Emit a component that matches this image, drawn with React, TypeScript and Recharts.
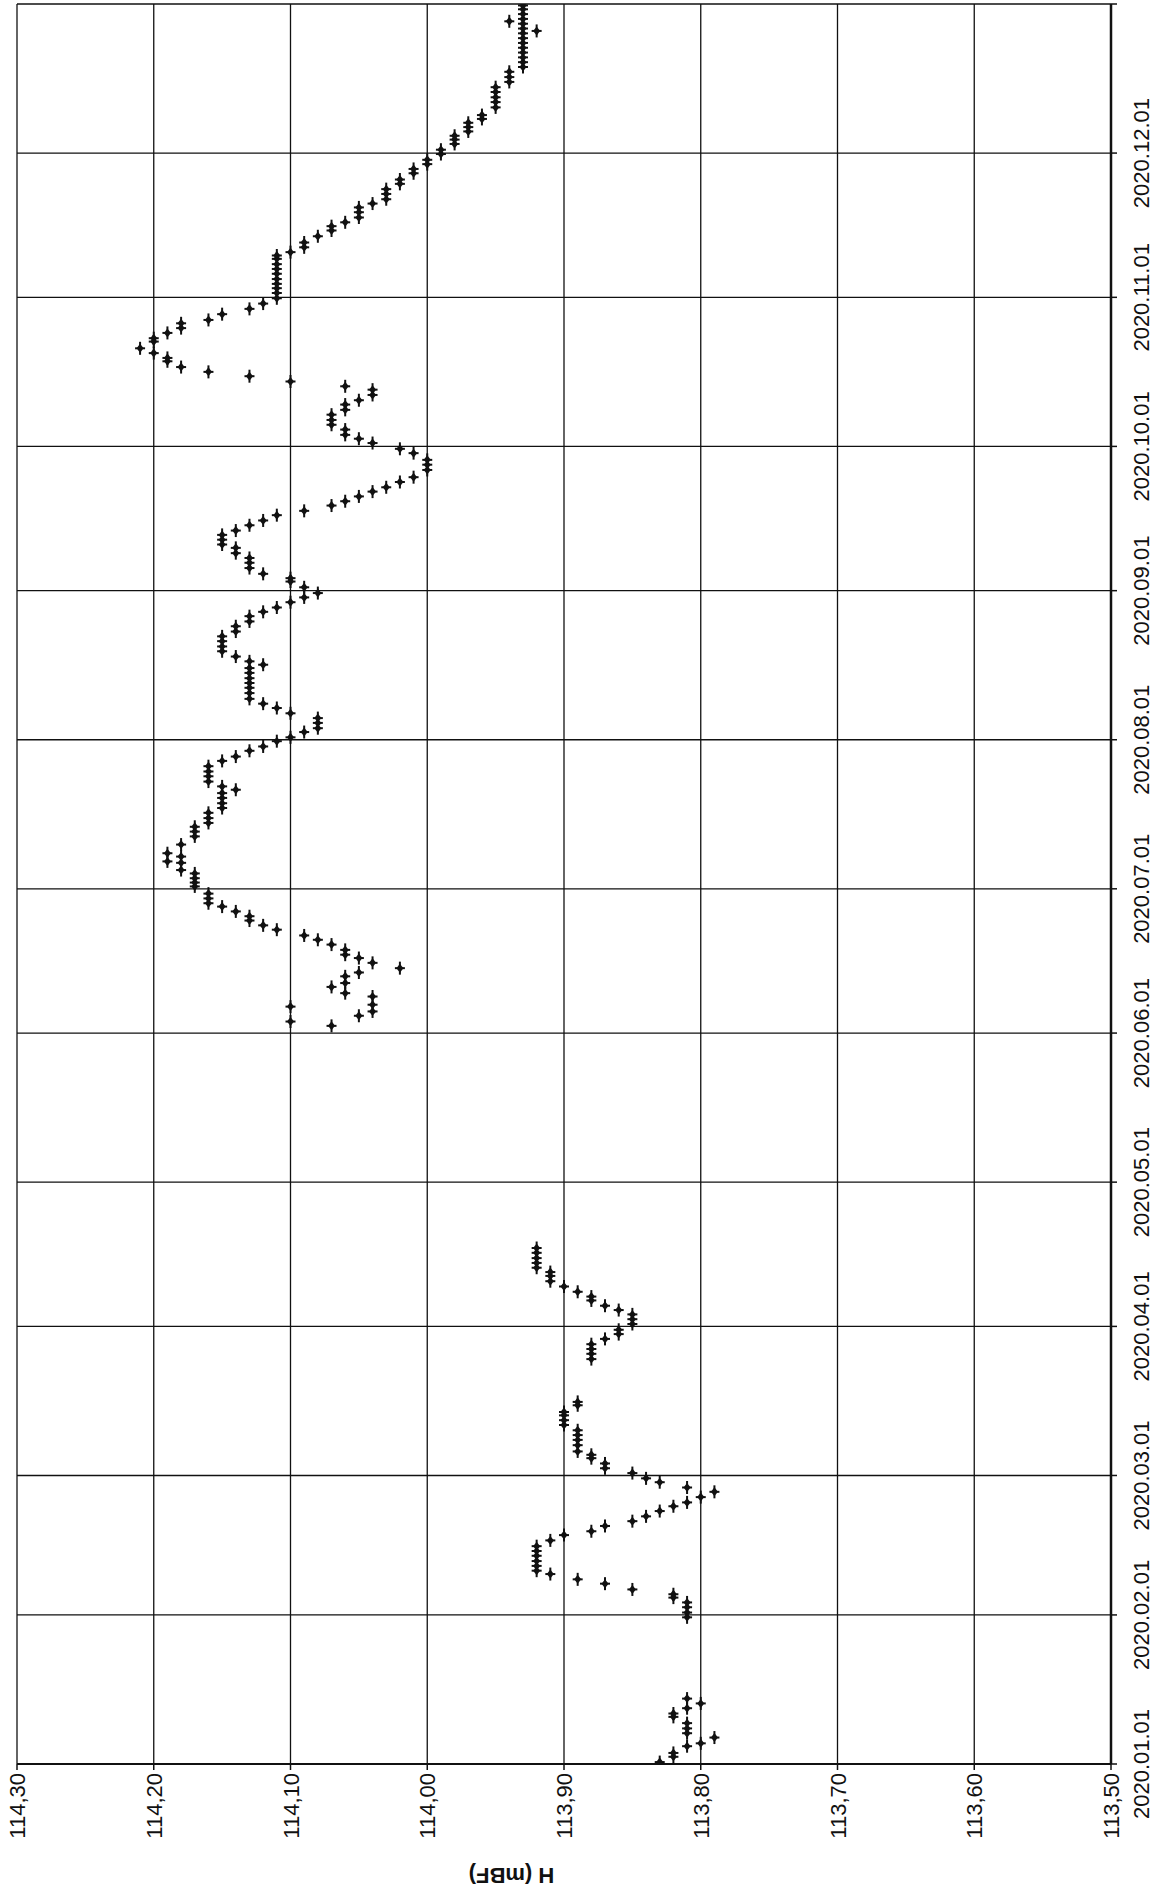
import React from 'react';
import { ScatterChart, Scatter, XAxis, YAxis, CartesianGrid } from 'recharts';

// Day of year 2020 (0 = 2020.01.01) at each month start; 366 = end of year
const monthTickDays = [0, 31, 60, 91, 121, 152, 182, 213, 244, 274, 305, 335, 366];
const monthTickLabels = [
  '2020.01.01', '2020.02.01', '2020.03.01', '2020.04.01', '2020.05.01', '2020.06.01',
  '2020.07.01', '2020.08.01', '2020.09.01', '2020.10.01', '2020.11.01', '2020.12.01', '',
];
const levelTicks = [113.5, 113.6, 113.7, 113.8, 113.9, 114.0, 114.1, 114.2, 114.3];

// Readings: day of year and water level H (mBF)
const janDays = [0.4, 1.5, 2.3, 3.7, 4.3, 5.5, 6.4, 7.4, 8.5, 9.8, 10.5, 11.6, 12.6, 13.6];
const janLevels = [113.83, 113.82, 113.82, 113.81, 113.8, 113.79, 113.81, 113.81, 113.81, 113.82, 113.82, 113.81, 113.8, 113.81];

const febMarDays = [30.5, 31.5, 32.6, 33.6, 34.6, 35.3, 36.3, 37.5, 38.4, 39.5, 40.2, 41.2, 42.2, 43.3, 44.3, 45.3, 46.5, 47.6, 48.4, 49.5, 50.5, 51.5, 52.6, 53.6, 54.4, 55.5, 56.6, 57.5, 58.6, 59.4, 60.5, 61.5, 62.5, 63.6, 64.3, 65.0, 66.3, 67.4, 68.4, 69.4, 70.5, 71.5, 72.5, 73.2, 74.6, 75.3];
const febMarLevels = [113.81, 113.81, 113.81, 113.81, 113.82, 113.82, 113.85, 113.87, 113.89, 113.91, 113.92, 113.92, 113.92, 113.92, 113.92, 113.92, 113.91, 113.9, 113.88, 113.87, 113.85, 113.84, 113.83, 113.82, 113.81, 113.8, 113.79, 113.81, 113.83, 113.84, 113.85, 113.87, 113.87, 113.88, 113.88, 113.89, 113.89, 113.89, 113.89, 113.89, 113.9, 113.9, 113.9, 113.9, 113.89, 113.89];

const aprDays = [84.2, 85.3, 86.3, 87.3, 88.4, 89.4, 90.3, 91.5, 92.5, 93.5, 94.4, 95.3, 96.4, 97.2, 98.2, 99.3, 100.4, 101.5, 102.3, 103.2, 104.2, 105.2, 106.3, 107.3];
const aprLevels = [113.88, 113.88, 113.88, 113.88, 113.87, 113.86, 113.86, 113.85, 113.85, 113.85, 113.86, 113.87, 113.88, 113.88, 113.89, 113.9, 113.91, 113.91, 113.91, 113.92, 113.92, 113.92, 113.92, 113.92];

const junJulDays = [153.5, 154.4, 155.6, 156.5, 157.5, 157.9, 159.6, 160.3, 161.6, 162.4, 163.8, 164.6, 165.5, 166.6, 167.6, 168.3, 169.3, 170.4, 171.4, 172.3, 173.5, 174.4, 175.4, 176.3, 177.3, 178.3, 179.0, 180.0, 181.0, 182.5, 183.3, 184.2, 185.2, 185.9, 187.4, 187.7, 188.7, 189.4, 191.2, 192.9, 193.9, 194.9, 195.7, 196.7, 197.8, 198.8, 199.8, 200.9, 201.9, 202.6, 203.3, 204.3, 205.4, 206.4, 207.5, 208.6, 209.5, 210.7, 211.6, 212.7];
const junJulLevels = [114.07, 114.1, 114.05, 114.04, 114.1, 114.04, 114.04, 114.06, 114.07, 114.06, 114.06, 114.05, 114.02, 114.04, 114.05, 114.06, 114.06, 114.07, 114.08, 114.09, 114.11, 114.12, 114.13, 114.13, 114.14, 114.15, 114.16, 114.16, 114.16, 114.17, 114.17, 114.17, 114.17, 114.18, 114.18, 114.19, 114.18, 114.19, 114.18, 114.17, 114.17, 114.17, 114.16, 114.16, 114.16, 114.15, 114.15, 114.15, 114.15, 114.14, 114.15, 114.16, 114.16, 114.16, 114.16, 114.15, 114.14, 114.13, 114.12, 114.11];

const augSepDays = [213.5, 214.6, 215.4, 216.5, 217.5, 218.5, 219.6, 220.5, 221.5, 222.7, 223.8, 224.8, 225.8, 226.9, 227.9, 228.6, 229.3, 230.3, 231.4, 232.4, 233.5, 234.5, 235.5, 236.6, 237.6, 238.7, 239.6, 240.5, 241.6, 242.6, 243.5, 244.7, 245.9, 246.6, 247.5, 248.7, 249.8, 250.8, 251.8, 252.9, 253.6, 254.6, 255.6, 256.5, 257.6, 258.6, 259.7, 260.6, 261.7, 262.6, 263.6, 264.6, 265.5, 266.6, 267.6, 269.1, 270.2, 271.2, 272.6, 273.5];
const augSepLevels = [114.1, 114.09, 114.08, 114.08, 114.08, 114.1, 114.11, 114.12, 114.13, 114.13, 114.13, 114.13, 114.13, 114.13, 114.13, 114.12, 114.13, 114.14, 114.15, 114.15, 114.15, 114.15, 114.14, 114.14, 114.13, 114.13, 114.12, 114.11, 114.1, 114.09, 114.08, 114.09, 114.1, 114.1, 114.12, 114.13, 114.13, 114.13, 114.14, 114.14, 114.15, 114.15, 114.15, 114.14, 114.13, 114.12, 114.11, 114.09, 114.07, 114.06, 114.05, 114.04, 114.03, 114.02, 114.01, 114.0, 114.0, 114.0, 114.01, 114.02];

const octDays = [274.7, 275.6, 276.4, 277.5, 278.5, 279.5, 280.6, 281.6, 282.7, 283.6, 284.7, 285.8, 286.5, 287.5, 288.6, 289.5, 290.5, 291.7, 292.4, 293.4, 294.4, 295.8, 296.5, 297.6, 298.6, 299.6, 300.3, 301.5, 302.6, 303.7];
const octLevels = [114.04, 114.05, 114.06, 114.06, 114.07, 114.07, 114.07, 114.06, 114.06, 114.05, 114.04, 114.04, 114.06, 114.1, 114.13, 114.16, 114.18, 114.19, 114.19, 114.2, 114.21, 114.2, 114.2, 114.19, 114.18, 114.18, 114.16, 114.15, 114.13, 114.12];

const novDecDays = [304.8, 305.9, 306.9, 307.8, 308.8, 309.9, 310.9, 311.9, 313.0, 313.7, 314.4, 315.4, 316.4, 317.7, 318.9, 319.8, 320.6, 321.6, 322.7, 323.7, 324.5, 325.4, 326.5, 327.5, 328.6, 329.5, 330.8, 331.7, 332.7, 333.6, 334.8, 335.7, 336.9, 337.8, 338.6, 339.5, 340.4, 341.3, 342.1, 342.9, 344.5, 345.6, 346.6, 347.7, 348.7, 349.8, 350.8, 351.9, 352.9, 353.9, 354.9, 355.9, 356.9, 357.9, 358.9, 359.9, 360.4, 360.9, 361.9, 362.4, 362.9, 363.9, 364.9, 365.7];
const novDecLevels = [114.11, 114.11, 114.11, 114.11, 114.11, 114.11, 114.11, 114.11, 114.11, 114.11, 114.1, 114.09, 114.09, 114.08, 114.07, 114.07, 114.06, 114.05, 114.05, 114.05, 114.04, 114.03, 114.03, 114.03, 114.02, 114.02, 114.01, 114.01, 114.0, 114.0, 113.99, 113.99, 113.98, 113.98, 113.98, 113.97, 113.97, 113.97, 113.96, 113.96, 113.95, 113.95, 113.95, 113.95, 113.95, 113.94, 113.94, 113.94, 113.93, 113.93, 113.93, 113.93, 113.93, 113.93, 113.93, 113.93, 113.92, 113.93, 113.93, 113.94, 113.93, 113.93, 113.93, 113.93];

const segments = [
  [janDays, janLevels],
  [febMarDays, febMarLevels],
  [aprDays, aprLevels],
  [junJulDays, junJulLevels],
  [augSepDays, augSepLevels],
  [octDays, octLevels],
  [novDecDays, novDecLevels],
].map(([d, l]) => (d as number[]).map((day, i) => ({ day, h: (l as number[])[i] })));

const FONT = '"Liberation Sans", Arial, sans-serif';

const Marker = (props: any) => {
  const { cx, cy } = props;
  if (cx == null || cy == null) return null;
  return (
    <g>
      <line x1={cx} y1={cy - 6.5} x2={cx} y2={cy + 6.5} stroke="#111" strokeWidth={2} />
      <line x1={cx - 5} y1={cy} x2={cx + 5} y2={cy} stroke="#111" strokeWidth={2} />
      <path d={`M${cx},${cy - 4.5} L${cx + 3.5},${cy} L${cx},${cy + 4.5} L${cx - 3.5},${cy} Z`} fill="#111" />
    </g>
  );
};

const LevelTick = (props: any) => {
  const { x, y, payload } = props;
  const label = Number(payload.value).toFixed(2).replace('.', ',');
  const bx = x + 8;
  const by = y + 1;
  return (
    <text x={bx} y={by} transform={`rotate(-90 ${bx} ${by})`} textAnchor="end" fontSize={22} fontFamily={FONT} fill="#111">
      {label}
    </text>
  );
};

const DateTick = (props: any) => {
  const { x, y, payload } = props;
  const idx = monthTickDays.indexOf(payload.value);
  const label = idx >= 0 ? monthTickLabels[idx] : '';
  if (!label) return null;
  const bx = x + 30;
  return (
    <text x={bx} y={y} transform={`rotate(-90 ${bx} ${y})`} textAnchor="middle" fontSize={22} fontFamily={FONT} fill="#111">
      {label}
    </text>
  );
};

const AxisTitle = (props: any) => {
  const vb = props.viewBox || { x: 17, y: 1764, width: 1094, height: 100 };
  const cx = vb.x + vb.width * 0.452;
  const cy = vb.y + 111;
  return (
    <text x={cx} y={cy} transform={`rotate(180 ${cx} ${cy})`} textAnchor="middle" dominantBaseline="central" fontSize={22} fontWeight="bold" fontFamily={FONT} fill="#111">
      H (mBF)
    </text>
  );
};

export default function App() {
  return (
    <div style={{ position: 'absolute', left: 0, top: 0, width: 1157, height: 1899, background: '#fff' }}>
      <ScatterChart width={1157} height={1899} margin={{ top: 4, right: 6, bottom: 35, left: 17 }}>
        <CartesianGrid stroke="#111" strokeWidth={1.3} />
        <XAxis
          type="number"
          dataKey="h"
          domain={[113.5, 114.3]}
          ticks={levelTicks}
          reversed
          allowDataOverflow
          height={100}
          tickSize={6}
          axisLine={{ stroke: '#111', strokeWidth: 2 }}
          tickLine={{ stroke: '#111', strokeWidth: 1.5 }}
          tick={<LevelTick />}
          interval={0}
          label={<AxisTitle />}
        />
        <YAxis
          type="number"
          dataKey="day"
          orientation="right"
          domain={[0, 366]}
          ticks={monthTickDays}
          allowDataOverflow
          width={40}
          tickSize={6}
          axisLine={{ stroke: '#111', strokeWidth: 2.5 }}
          tickLine={{ stroke: '#111', strokeWidth: 1.5 }}
          tick={<DateTick />}
          interval={0}
        />
        {segments.map((data, i) => (
          <Scatter key={i} data={data} shape={<Marker />} isAnimationActive={false} />
        ))}
      </ScatterChart>
    </div>
  );
}
